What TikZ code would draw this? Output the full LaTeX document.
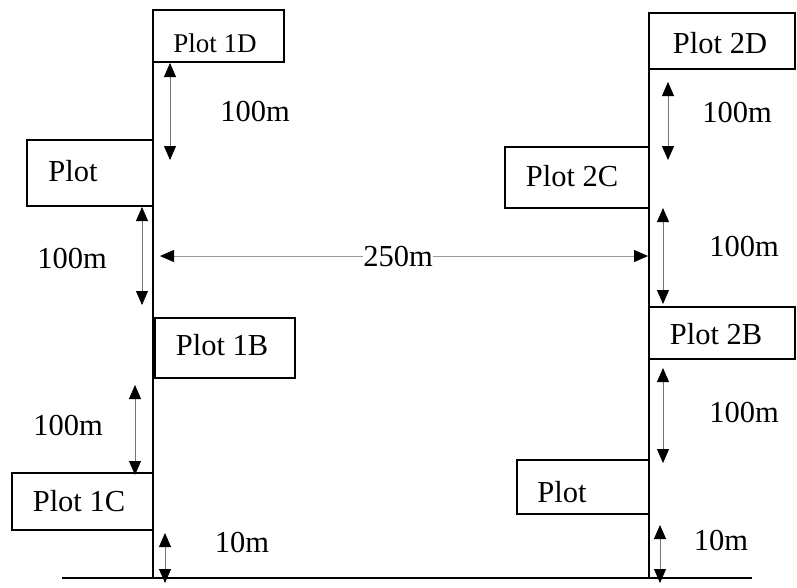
\documentclass[tikz,border=0pt]{standalone}
\usepackage{fontspec}
\setmainfont{Liberation Serif}
\usetikzlibrary{arrows.meta}
\begin{document}
\begin{tikzpicture}[x=1pt,y=-1pt,
  plotbox/.style={draw=black,line width=2.2pt,inner sep=0pt,outer sep=0pt,anchor=north west},
  lbl/.style={inner sep=0pt,font=\fontsize{30.5}{34}\selectfont},
  smalllbl/.style={inner sep=0pt,font=\fontsize{27}{30}\selectfont},
  mainline/.style={line width=2.6pt,black},
  dimarrow/.style={line width=0.9pt,draw=black!55,
    {Triangle[width=12pt,length=14pt,color=black]}-{Triangle[width=12pt,length=14pt,color=black]}},
  harrow/.style={line width=1pt,draw=black!40,-{Triangle[width=12pt,length=14pt,color=black]}}]
\useasboundingbox (0,0) rectangle (797,587);
% main lines
\coordinate (L1) at (153,10);
\coordinate (L2) at (153,578);
\coordinate (R1) at (649,13);
\coordinate (R2) at (649,578);
\coordinate (G1) at (62,578);
\coordinate (G2) at (752,578);
\draw[mainline] (L1) -- (L2);
\draw[mainline] (R1) -- (R2);
\draw[line width=2.2pt] (G1) -- (G2);
% boxes
\node[plotbox,minimum width=131pt,minimum height=52pt] (p1d) at (153,10) {};
\node[plotbox,minimum width=126pt,minimum height=66pt] (p1a) at (27,140) {};
\node[plotbox,minimum width=140pt,minimum height=60pt] (p1b) at (155,318) {};
\node[plotbox,minimum width=141pt,minimum height=57pt] (p1c) at (12,473) {};
\node[plotbox,minimum width=146pt,minimum height=56pt] (p2d) at (649,13) {};
\node[plotbox,minimum width=144pt,minimum height=61pt] (p2c) at (505,147) {};
\node[plotbox,minimum width=146pt,minimum height=52pt] (p2b) at (649,307) {};
\node[plotbox,minimum width=132pt,minimum height=54pt] (p2a) at (517,460) {};
% box labels
\node[smalllbl] (t1d) at (215,43) {Plot 1D};
\node[lbl] (t1a) at (73,171) {Plot};
\node[lbl] (t1b) at (222,345) {Plot 1B};
\node[lbl] (t1c) at (79,501) {Plot 1C};
\node[lbl] (t2d) at (720,43) {Plot 2D};
\node[lbl] (t2c) at (572,176) {Plot 2C};
\node[lbl] (t2b) at (716,334) {Plot 2B};
\node[lbl] (t2a) at (562,492) {Plot};
% dimension labels
\node[lbl] (d1) at (255,112) {100m};
\node[lbl] (d2) at (72,258) {100m};
\node[lbl] (d3) at (68,425) {100m};
\node[lbl] (d4) at (242,542) {10m};
\node[lbl] (e1) at (737,113) {100m};
\node[lbl] (e2) at (744,247) {100m};
\node[lbl] (e3) at (744,412) {100m};
\node[lbl] (e4) at (721,540) {10m};
\node[lbl] (w) at (398,256) {250m};
% dimension arrows
\coordinate (a1t) at (170,63);  \coordinate (a1b) at (170,160);
\coordinate (a2t) at (142,207); \coordinate (a2b) at (142,305);
\coordinate (a3t) at (135,385); \coordinate (a3b) at (135,475);
\coordinate (a4t) at (165,533); \coordinate (a4b) at (165,583);
\coordinate (b1t) at (668,82);  \coordinate (b1b) at (668,160);
\coordinate (b2t) at (663,208); \coordinate (b2b) at (663,304);
\coordinate (b3t) at (663,368); \coordinate (b3b) at (663,463);
\coordinate (b4t) at (660,525); \coordinate (b4b) at (660,583);
\draw[dimarrow] (a1t) -- (a1b);
\draw[dimarrow] (a2t) -- (a2b);
\draw[dimarrow] (a3t) -- (a3b);
\draw[dimarrow] (a4t) -- (a4b);
\draw[dimarrow] (b1t) -- (b1b);
\draw[dimarrow] (b2t) -- (b2b);
\draw[dimarrow] (b3t) -- (b3b);
\draw[dimarrow] (b4t) -- (b4b);
\coordinate (hl) at (160,256);
\coordinate (hr) at (648,256);
\draw[harrow] (w.west) -- (hl);
\draw[harrow] (w.east) -- (hr);
\end{tikzpicture}
\end{document}
